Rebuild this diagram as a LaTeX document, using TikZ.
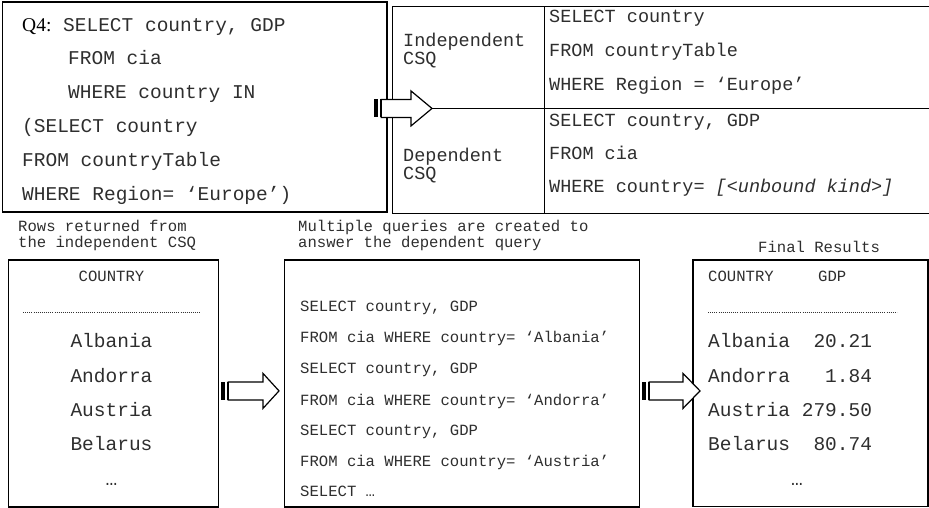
\documentclass[tikz,border=0pt]{standalone}
\usepackage{fontspec}
\setmainfont{Liberation Serif}
\setmonofont{Liberation Mono}
\usetikzlibrary{calc}

\newcommand{\fBig}{\ttfamily\fontsize{19.5pt}{20pt}\selectfont}
\newcommand{\fMid}{\ttfamily\fontsize{18.5pt}{19pt}\selectfont}
\newcommand{\fSml}{\ttfamily\fontsize{15.6pt}{16pt}\selectfont}

% striped block arrow: start, tip, head length
\newcommand{\stripearrow}[3]{%
  \fill let \p1=(#1) in (\x1,\y1-9pt) rectangle ++(4.5pt,18pt);
  \fill let \p1=(#1) in (\x1+6pt,\y1-9pt) rectangle ++(1.6pt,18pt);
  \filldraw[arrowbody] let \p1=(#1), \p2=(#2) in
    (\x1+7.5pt,\y1-9pt) -- (\x2-#3pt,\y1-9pt) -- (\x2-#3pt,\y1-17.5pt)
    -- (\x2,\y1) -- (\x2-#3pt,\y1+17.5pt) -- (\x2-#3pt,\y1+9pt)
    -- (\x1+7.5pt,\y1+9pt) -- cycle;
}

\begin{document}
\begin{tikzpicture}[
  x=1pt, y=-1pt,
  box/.style      ={draw, line width=1.8pt, anchor=north west, inner sep=0pt},
  cell/.style     ={draw, line width=1.1pt, anchor=north west, inner sep=0pt},
  tx/.style       ={anchor=base west, inner sep=0pt, font=\fBig, text=black!82},
  txm/.style      ={tx, font=\fMid},
  txs/.style      ={tx, font=\fSml},
  arrowbody/.style={fill=white, draw=black, line width=1.2pt, line join=miter},
  dotrule/.style  ={line width=0.9pt, dash pattern=on 0.9pt off 1.2pt, black!80},
]
\useasboundingbox (0,0) rectangle (929,508);

% ---- geometry --------------------------------------------------------------
\def\tabL{391.5} \def\tabC{544.3} \def\tabT{5.7} \def\tabM{108.3}
\def\sqlX{549} \def\rowB{259}

% ---- top left: the query ---------------------------------------------------
\node[box, minimum width=384.5pt, minimum height=209.5pt] (query) at (1.5,1.5) {};
\node[tx] (q1) at (22,31.7)  {{\rmfamily\color{black}Q4:} SELECT country, GDP};
\node[tx] (q2) at (68,65)    {FROM cia};
\node[tx] (q3) at (68,99)    {WHERE country IN};
\node[tx] (q4) at (22,133)   {(SELECT country};
\node[tx] (q5) at (22,166)   {FROM countryTable};
\node[tx] (q6) at (22,200)   {WHERE Region= ‘Europe’)};

% ---- top right: the two CSQs -----------------------------------------------
\node[cell, minimum width=152.8pt, minimum height=102.6pt] (indepLbl) at (\tabL,\tabT) {};
\node[cell, minimum width=400pt,   minimum height=102.6pt] (indepSql) at (\tabC,\tabT) {};
\node[cell, minimum width=152.8pt, minimum height=104.4pt] (depLbl)   at (\tabL,\tabM) {};
\node[cell, minimum width=400pt,   minimum height=104.4pt] (depSql)   at (\tabC,\tabM) {};

\node[txm] (iL1) at (403,47)    {Independent};
\node[txm] (iL2) at (403,65)    {CSQ};
\node[txm] (dL1) at (403,161)   {Dependent};
\node[txm] (dL2) at (403,179)   {CSQ};

\node[txm] (iS1) at (\sqlX,23)    {SELECT country};
\node[txm] (iS2) at (\sqlX,57)    {FROM countryTable};
\node[txm] (iS3) at (\sqlX,90.5)  {WHERE Region = ‘Europe’};
\node[txm] (dS1) at (\sqlX,126.5) {SELECT country, GDP};
\node[txm] (dS2) at (\sqlX,160)   {FROM cia};
\node[txm] (dS3) at (\sqlX,192.5) {WHERE country= \textit{[<unbound kind>]}};

% ---- bottom row ------------------------------------------------------------
\node[txs] (lblRows1)  at (18,231.7)  {Rows returned from};
\node[txs] (lblRows2)  at (18,247.3)  {the independent CSQ};
\node[txs] (lblMulti1) at (298,231.7) {Multiple queries are created to};
\node[txs] (lblMulti2) at (298,247.3) {answer the dependent query};
\node[txs] (lblFinal)  at (758,252)   {Final Results};

\node[box, minimum width=210pt, minimum height=247pt] (rows)  at (7.5,\rowB) {};
\node[box, minimum width=355pt, minimum height=247pt] (multi) at (283.5,\rowB) {};
\node[box, minimum width=235pt, minimum height=246.5pt] (final) at (692,\rowB) {};

% rows returned
\node[txs, anchor=base] (rHead) at (111.5,281)   {COUNTRY};
\draw[dotrule] (23,312) -- (200,312);
\node[tx, anchor=base] (r1) at (111.5,347.3) {Albania};
\node[tx, anchor=base] (r2) at (111.5,382.3) {Andorra};
\node[tx, anchor=base] (r3) at (111.5,416.7) {Austria};
\node[tx, anchor=base] (r4) at (111.5,450.7) {Belarus};
\node[tx, anchor=base] (r5) at (111.5,485)   {…};

% generated queries
\node[txs] (m1) at (300,311.7) {SELECT country, GDP};
\node[txs] (m2) at (300,342.3) {FROM cia WHERE country= ‘Albania’};
\node[txs] (m3) at (300,373.3) {SELECT country, GDP};
\node[txs] (m4) at (300,405)   {FROM cia WHERE country= ‘Andorra’};
\node[txs] (m5) at (300,435)   {SELECT country, GDP};
\node[txs] (m6) at (300,466.7) {FROM cia WHERE country= ‘Austria’};
\node[txs] (m7) at (300,496.7) {SELECT …};

% final results
\node[txs] (fHead1) at (708,281) {COUNTRY};
\node[txs] (fHead2) at (818,281) {GDP};
\draw[dotrule] (708,312) -- (897,312);
\node[tx] (f1) at (708,347.7) {Albania\ \ 20.21};
\node[tx] (f2) at (708,382.7) {Andorra\ \ \ 1.84};
\node[tx] (f3) at (708,416.7) {Austria 279.50};
\node[tx] (f4) at (708,450.7) {Belarus\ \ 80.74};
\node[tx, anchor=base] (f5) at (797,485) {…};

% ---- block arrows ----------------------------------------------------------
\coordinate (qaS) at ([xshift=-14pt,yshift=-1.3pt]query.east);
\coordinate (qaE) at ([xshift=40.5pt,yshift=0.8pt]indepLbl.south west);
\stripearrow{qaS}{qaE}{21}

\coordinate (raS) at ([xshift=1.5pt,yshift=-7.5pt]rows.east);
\coordinate (raE) at ([xshift=-4.5pt,yshift=-7.5pt]multi.west);
\stripearrow{raS}{raE}{16}

\coordinate (maS) at ([xshift=1.5pt,yshift=-7.5pt]multi.east);
\coordinate (maE) at ([xshift=8pt,yshift=-7.5pt]final.west);
\stripearrow{maS}{maE}{17}

\end{tikzpicture}
\end{document}
